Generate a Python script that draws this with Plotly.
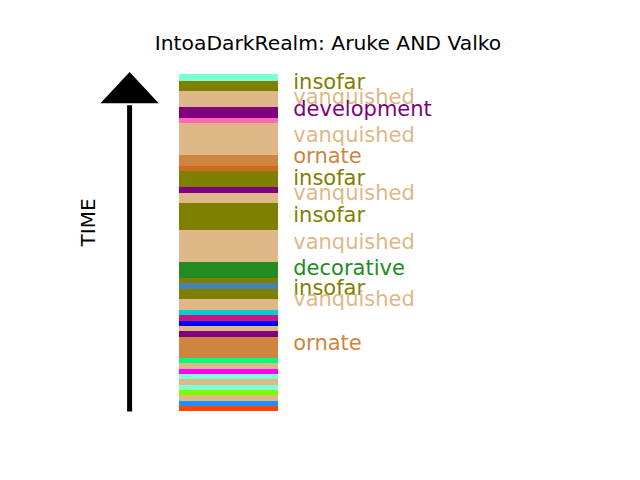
import plotly.graph_objects as go

# Bands listed from earliest (bottom) to latest (top): start, end, colour
band_start = [0, 5, 10, 15.7, 21, 26, 31.7, 37, 42, 47.7, 52.7, 74, 79.7, 85, 90, 95.7,
              101, 112, 121.7, 128, 133, 148.7, 181, 208, 217.7, 224, 240, 244.7,
              255.7, 287.7, 292.7, 304, 319.7, 329.7]
band_end = band_start[1:] + [336.7]
band_color = ["orangered", "dodgerblue", "burlywood", "lawngreen", "aquamarine", "burlywood",
              "aquamarine", "magenta", "burlywood", "springgreen", "peru", "purple",
              "burlywood", "blue", "mediumvioletred", "darkturquoise", "burlywood", "olive",
              "steelblue", "olive", "forestgreen", "burlywood", "olive", "burlywood",
              "purple", "olive", "chocolate", "peru", "burlywood", "hotpink", "purple",
              "burlywood", "olive", "aquamarine"]

label_text = ["insofar", "vanquished", "development", "vanquished", "ornate", "insofar",
              "vanquished", "insofar", "vanquished", "decorative", "insofar", "vanquished",
              "ornate"]
label_y = [327.7, 312.7, 300, 274, 252.7, 230.7, 215.7, 193.7, 167, 140.7, 120.7, 109.7, 65.7]
label_color = ["olive", "burlywood", "purple", "burlywood", "peru", "olive", "burlywood",
               "olive", "burlywood", "forestgreen", "olive", "burlywood", "peru"]

title = "IntoaDarkRealm: Aruke AND Valko"
axis_label = "TIME"

FONT = "DejaVu Sans"

fig = go.Figure()
fig.add_trace(go.Bar(
    x=[0.3] * len(band_start),
    y=[e - s for s, e in zip(band_start, band_end)],
    base=band_start,
    width=0.2,
    marker=dict(color=band_color, line=dict(width=0)),
    hoverinfo="skip",
    showlegend=False,
))

fig.add_trace(go.Scatter(
    x=[0.43] * len(label_text),
    y=label_y,
    mode="text",
    text=label_text,
    textposition="middle right",
    textfont=dict(family=FONT, size=21, color=label_color),
    hoverinfo="skip",
    showlegend=False,
))

t0 = band_start[0]
t1 = band_end[-1]
head_len = 31
head_half = 0.0587
fig.add_shape(type="line", x0=0.1, x1=0.1, y0=t0 - 1, y1=t1 - head_len,
              line=dict(color="black", width=5), layer="above")
fig.add_shape(type="path",
              path=f"M {0.1 - head_half},{t1 - head_len + 2} L {0.1 + head_half},{t1 - head_len + 2} L 0.1,{t1 + 2.3} Z",
              fillcolor="black", line=dict(width=0), layer="above")

fig.add_annotation(x=0.018, y=(t0 + t1) / 2 + 20, xref="x", yref="y", text=axis_label,
                   textangle=-90, showarrow=False,
                   font=dict(family=FONT, size=20, color="black"))

fig.update_layout(
    width=640, height=480,
    margin=dict(l=80, r=64, t=57.6, b=52.8),
    paper_bgcolor="white", plot_bgcolor="white",
    barmode="overlay",
    bargap=0,
    title=dict(text=title, x=0.5125, xanchor="center", y=1 - 43 / 480, yanchor="middle",
               font=dict(family=FONT, size=20.3, color="black")),
    xaxis=dict(range=[0, 1], visible=False, fixedrange=True),
    yaxis=dict(range=[-16.5, 353.1], visible=False, fixedrange=True),
)

fig.write_html("out.html")
